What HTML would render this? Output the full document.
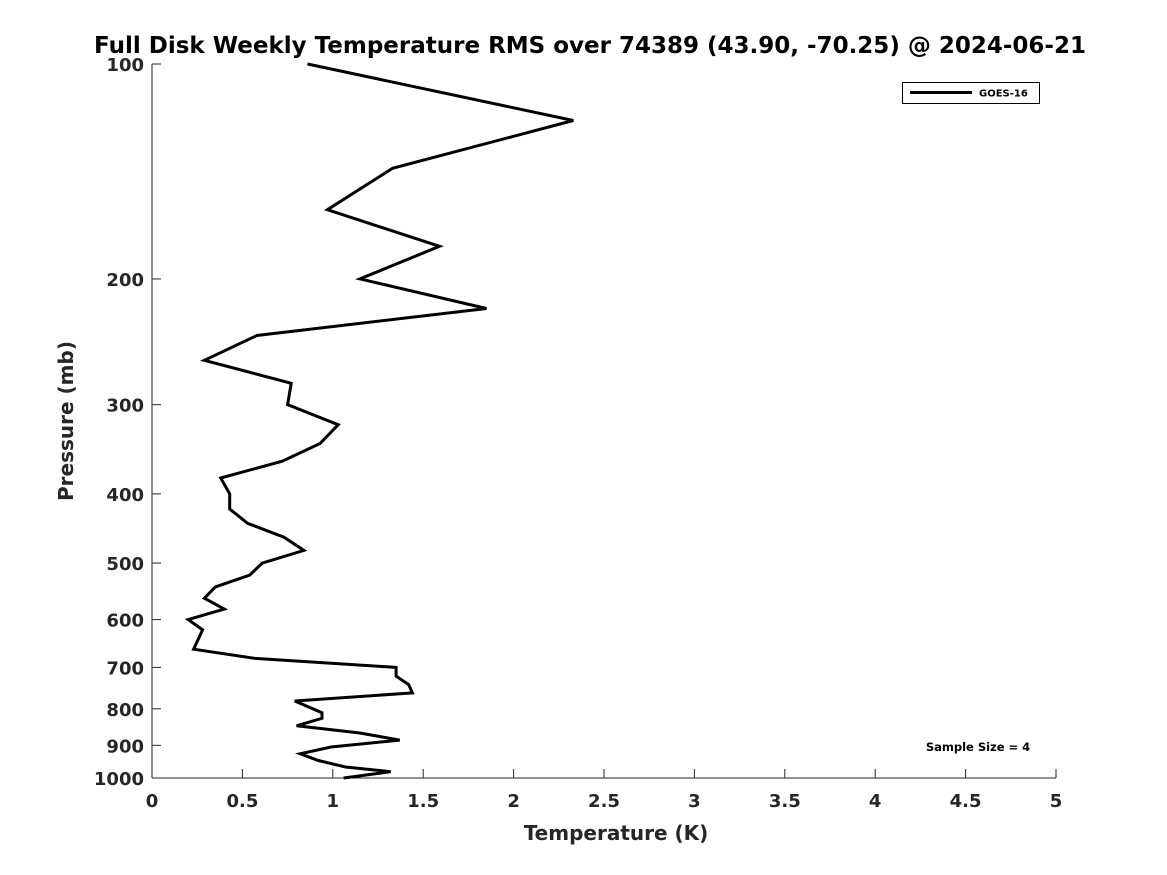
<!DOCTYPE html>
<html><head><meta charset="utf-8"><style>
body{margin:0;background:#fff;}
svg{display:block;font-family:"DejaVu Sans","Liberation Sans",sans-serif;font-weight:bold;}
</style></head><body>
<svg id="chart" width="1167" height="875" viewBox="0 0 1167 875" xmlns="http://www.w3.org/2000/svg">
<rect width="1167" height="875" fill="#fff"/>
<text x="590" y="53" text-anchor="middle" font-size="23" fill="#000">Full Disk Weekly Temperature RMS over 74389 (43.90, -70.25) @ 2024-06-21</text>
<g id="axes"></g>
<g id="series"></g>
<text x="616" y="840" text-anchor="middle" font-size="20" fill="#262626">Temperature (K)</text>
<text transform="translate(73,421) rotate(-90)" text-anchor="middle" font-size="20" fill="#262626">Pressure (mb)</text>
<g>
<rect x="902.5" y="82.5" width="137" height="21" fill="#fff" stroke="#000" stroke-width="1"/>
<line x1="910" y1="92.5" x2="972" y2="92.5" stroke="#000" stroke-width="3"/>
<text x="979" y="96.5" font-size="10" fill="#000">GOES-16</text>
</g>
<text x="978" y="751" text-anchor="middle" font-size="11.5" fill="#000">Sample Size = 4</text>
</svg>
<script>
const pressures = [100,120,140,160,180,200,220,240,260,280,300,320,340,360,380,400,420,440,460,480,500,520,540,560,580,600,620,660,680,700,720,740,760,780,810,825,845,865,885,905,925,945,965,980,1000];
const rmsTemps = [0.86,2.33,1.33,0.97,1.59,1.15,1.85,0.58,0.29,0.77,0.75,1.03,0.93,0.72,0.38,0.43,0.43,0.53,0.73,0.84,0.61,0.54,0.35,0.29,0.40,0.20,0.28,0.23,0.57,1.35,1.35,1.42,1.44,0.79,0.94,0.94,0.80,1.15,1.37,0.99,0.82,0.92,1.07,1.32,1.06];
const xTicks = [0,0.5,1,1.5,2,2.5,3,3.5,4,4.5,5];
const xTickLabels = ["0","0.5","1","1.5","2","2.5","3","3.5","4","4.5","5"];
const yTicks = [100,200,300,400,500,600,700,800,900,1000];
const yTickLabels = ["100","200","300","400","500","600","700","800","900","1000"];

const L=152,R=1056,T=64,B=778;
const xs=v=>L+(v/5)*(R-L);
const ys=p=>T+(Math.log10(p)-2)*(B-T);
const NS="http://www.w3.org/2000/svg";
const axes=document.getElementById('axes');
function mk(tag,attrs,parent){const e=document.createElementNS(NS,tag);for(const k in attrs)e.setAttribute(k,attrs[k]);parent.appendChild(e);return e;}
let e=mk('line',{x1:L,y1:T,x2:L,y2:B,stroke:'#262626','stroke-width':1},axes);


e=mk('line',{x1:L,y1:B,x2:R,y2:B,stroke:'#262626','stroke-width':1},axes);


xTicks.forEach((v,i)=>{
  const x=xs(v);
  let t=mk('line',{x1:x,y1:B,x2:x,y2:B-9,stroke:'#262626','stroke-width':1},axes);
  
  
  let l=mk('text',{x:x,y:B+29,'text-anchor':'middle','font-size':18,fill:'#262626'},axes);
  l.textContent=xTickLabels[i];
  
  
});
yTicks.forEach((p,i)=>{
  const y=ys(p);
  let t=mk('line',{x1:L,y1:y,x2:L+9,y2:y,stroke:'#262626','stroke-width':1},axes);
  
  
  let l=mk('text',{x:L-8,y:y+7,'text-anchor':'end','font-size':18,fill:'#262626'},axes);
  l.textContent=yTickLabels[i];
  
  
});
const pts=pressures.map((p,i)=>xs(rmsTemps[i]).toFixed(1)+','+ys(p).toFixed(1)).join(' ');
const line=mk('polyline',{points:pts,fill:'none',stroke:'#000','stroke-width':3,'stroke-linejoin':'miter'},document.getElementById('series'));


</script>
</body></html>
